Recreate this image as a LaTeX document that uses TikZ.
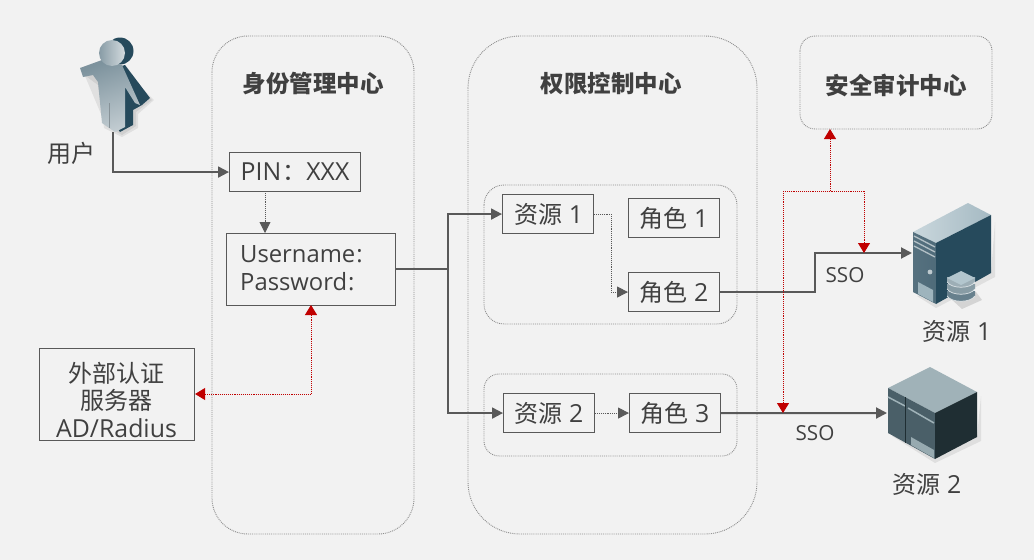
\documentclass[tikz,border=0pt]{standalone}
\usepackage{fontspec}
\setmainfont[Scale=1.035]{Open Sans}
\newfontfamily\cjk{Noto Sans CJK SC}
\usetikzlibrary{arrows.meta,calc}
\definecolor{bg}{HTML}{F2F2F2}
\definecolor{ink}{HTML}{404040}
\definecolor{ln}{HTML}{595959}
\definecolor{pan}{HTML}{8C8C8C}
\definecolor{rd}{HTML}{C00000}
\definecolor{dk}{HTML}{264A5C}
\definecolor{dkb}{HTML}{1F2E33}
\definecolor{stfront}{HTML}{4A5F68}
\definecolor{sttop}{HTML}{A0B2B8}
\definecolor{svtop}{HTML}{B3C6CE}
\definecolor{svfront}{HTML}{56717F}
\tikzset{
 x=1pt,y=-1pt,
 panel/.style={draw=pan,line width=.9pt,densely dotted},
 box/.style={draw=ln,line width=1.1pt,text=ink,font=\fontsize{24}{28}\selectfont,inner sep=0pt,anchor=north west},
 lab/.style={text=ink,font=\fontsize{24}{28}\selectfont,inner sep=0pt},
 credlab/.style={text=ink,font=\fontsize{23}{28}\selectfont,inner sep=0pt,anchor=west},
 ttl/.style={text=ink,font=\cjk\bfseries\fontsize{23.5}{27}\selectfont,inner sep=0pt},
 sso/.style={text=ink,font=\fontsize{20}{24}\selectfont,inner sep=0pt},
 main/.style={draw=ln,line width=2pt,-{Triangle[length=11pt,width=11pt]}},
 mainp/.style={draw=ln,line width=2pt},
 minor/.style={draw=ln,line width=.9pt,densely dotted,-{Triangle[length=11pt,width=11pt]}},
 red/.style={draw=rd,line width=.9pt,densely dotted},
 redtip/.style={red,-{Triangle[length=10pt,width=12pt,fill=rd]}},
 redtips/.style={red,{Triangle[length=10pt,width=12pt,fill=rd]}-{Triangle[length=10pt,width=12pt,fill=rd]}},
 anchorpt/.style={inner sep=0pt,minimum size=0pt},
}
\newcommand{\bx}[5]{\node[box,minimum width=#3,minimum height=#4] (#1) at (#2) {#5};}
\begin{document}
\begin{tikzpicture}
\useasboundingbox (0,0) rectangle (1034,559.6);
\fill[bg] (-3,-3) rectangle (1037,563);

% panels
\draw[panel,rounded corners=36pt] (212,36) rectangle (414,534);
\draw[panel,rounded corners=52pt] (468,36) rectangle (757,534);
\draw[panel,rounded corners=15pt] (800,36) rectangle (992,129);
\draw[panel,rounded corners=20pt] (484,185) rectangle (737,324);
\draw[panel,rounded corners=15pt] (484,374) rectangle (737,456);

\node[ttl] (t1) at (313,84) {身份管理中心};
\node[ttl] (t2) at (611,84) {权限控制中心};
\node[ttl] (audit) at (896,85) {安全审计中心};
\coordinate (auditb) at (830,129);

% person
\begin{scope}
\fill[black,opacity=.07] (83,74)--(122,68)--(154,100)--(138,114)--(138,128)--(122,137)--(104,128)--(98,85)--cycle;
\fill[black,opacity=.07] (85,76)--(122,70)--(152,100)--(136,112)--(136,126)--(122,135)--(106,126)--cycle;
\fill[dk] (125,65) -- (150,98) -- (142,105) -- (133,110) -- (133,125) -- (120,132) -- (112,120) -- (108,70) -- cycle;
\fill[dk] (120,51) circle (13.5);
\shade[top color=white!40!dk,bottom color=white!72!dk,shading angle=20]
 (80,68) -- (102,60) -- (122,65) -- (140,105) -- (135,103) -- (125,87) -- (125,127) -- (115,132) -- (102,123) -- (98,82) -- (93,75) -- (83,77) -- cycle;
\shade[left color=white!45!dk,right color=white!80!dk] (112,53) circle (13);
\draw[white!60!dk!80!black,line width=.9pt] (109,103) -- (109,128);
\end{scope}
\node[anchorpt] (user) at (113,132) {};
\node[lab] (userl) at (71,153) {\cjk 用户};

% boxes
\bx{pin}{229,152}{131pt}{39pt}{PIN\kern1pt{\cjk ：}XXX}
\node[box,minimum width=169pt,minimum height=72pt] (cred) at (226,233) {};
\node[credlab] (credt1) at (240,254) {Username\kern1pt:};
\node[credlab] (credt2) at (240,282) {Password\kern1pt:};
\node[box,minimum width=155pt,minimum height=92pt] (ext) at (39,348) {};
\node[lab,align=center] (extt) at (116.5,399.5) {{\cjk 外部认证}\\[-.5pt]{\cjk 服务器}\\[-.5pt]AD/Radius};
\bx{r1}{502,194}{91pt}{39pt}{\kern1.5pt{\cjk 资源} 1}
\bx{ro1}{628,198}{91pt}{39pt}{{\cjk 角色} 1}
\bx{ro2}{628,272}{91pt}{39pt}{{\cjk 角色} 2}
\bx{r2}{503,393}{91pt}{39pt}{{\cjk 资源} 2}
\bx{ro3}{629,393}{91pt}{39pt}{{\cjk 角色} 3}

% server
\begin{scope}
\fill[black,opacity=.08] (917,296)--(936,308)--(995,277)--(995,222)--(991,273)--cycle;
\shade[left color=white!30!svtop,right color=svtop!90!dk] (913,232)--(968,203)--(991,215)--(936,243)--cycle;
\shade[left color=svfront,right color=svfront!85!dk] (913,232)--(936,243)--(936,304)--(913,292)--cycle;
\fill[dk] (936,243)--(991,215)--(991,273)--(936,304)--cycle;
\foreach \d in {0,5,10}{\draw[white!65!dk,line width=1.3pt] (914,{236+\d})--(935,{247+\d});}
\fill[white!70!dk] (930,272) circle (2.4);
\fill[svtop!85!dk] (918,282)--(933,290)--(933,302)--(918,294)--cycle;
% disk stack
\fill[black,opacity=.12] (950,298)--(976,292)--(982,300)--(962,309)--cycle;
\foreach \yy/\cc in {296/white!30!dk,289/white!45!dk,282/white!55!dk}{
 \fill[\cc] (947,{\yy-5}) -- (947,\yy) .. controls (952,{\yy+7}) and (970,{\yy+7}) .. (975,\yy) -- (975,{\yy-5}) -- cycle;
 \draw[white!85!dk,line width=.7pt] (947,\yy) .. controls (952,{\yy+7}) and (970,{\yy+7}) .. (975,\yy);
}
\fill[svtop] (961,271)--(975,278)--(961,285)--(947,278)--cycle;
\end{scope}
\node[anchorpt] (srv1) at (912,253) {};
\node[lab] (srv1l) at (957,331) {{\cjk 资源} 1};

% storage
\begin{scope}
\fill[black,opacity=.08] (892,436)--(935,463)--(981,441)--(981,396)--(977,437)--cycle;
\fill[sttop] (888,388)--(930,367)--(977,392)--(935,413)--cycle;
\fill[stfront] (888,388)--(935,413)--(935,459)--(888,433)--cycle;
\fill[dkb] (935,413)--(977,392)--(977,437)--(935,459)--cycle;
\draw[sttop,line width=1.5pt] (888,397)--(905,406);
\draw[sttop,line width=1.5pt] (908,408)--(934,423);
\draw[dkb,line width=1.6pt] (905.5,397)--(905.5,443);
\fill[sttop!90!stfront] (911,437)--(934,450)--(934,458)--(911,445)--cycle;
\end{scope}
\node[anchorpt] (srv2) at (887,413) {};
\node[lab] (srv2l) at (927,484) {{\cjk 资源} 2};

% main connectors
\draw[main] (user.center) |- (pin.west);
\coordinate (fork) at (448,269);
\draw[mainp] (cred.east |- fork) -- (fork);
\draw[main] (fork) |- (r1.west);
\draw[main] (fork) |- (r2.west);
\coordinate (b1) at (815,253);
\draw[main] (ro2.east) -| (b1) -- (srv1.center);
\draw[main] (ro3.east) -- (srv2.center);

% dotted connectors
\draw[minor] (265,191) -- (265,233);
\coordinate (d1) at (611,214);
\draw[minor] (r1.east |- d1) -- (d1) |- (ro2.west);
\draw[minor] (r2.east) -- (ro3.west);

% red connectors
\coordinate (c1) at (311,394);
\draw[redtips] (311,305) -- (c1) -- (ext.east |- c1);
\coordinate (hub) at (830,191);
\draw[redtip] (hub) -- (auditb);
\coordinate (hl) at (783,191);
\coordinate (hr) at (864,191);
\draw[red] (hl) -- (hr);
\draw[redtip] (hr) -- (srv1.center -| hr);
\draw[redtip] (hl) -- (ro3.east -| hl);

\node[sso] (s1) at (845,275) {SSO};
\node[sso] (s2) at (815,433) {SSO};
\end{tikzpicture}
\end{document}
